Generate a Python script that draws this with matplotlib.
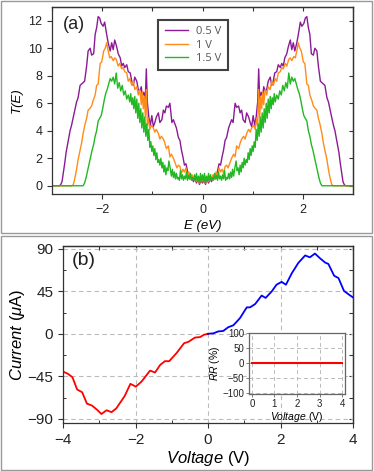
import numpy as np
import matplotlib.pyplot as plt
from matplotlib.patches import Rectangle
from matplotlib.ticker import MultipleLocator

# ---- panel (a): T(E), read for E >= 0 (curves are symmetric in E) ----
e_05 = [0.00, 0.03, 0.06, 0.09, 0.12, 0.15, 0.18, 0.21, 0.25, 0.29, 0.33, 0.36, 0.39, 0.42,
        0.45, 0.48, 0.52, 0.55, 0.58, 0.61, 0.65, 0.68, 0.72, 0.75, 0.78, 0.81, 0.85, 0.88,
        0.92, 0.95, 0.98, 1.01, 1.04, 1.07, 1.10, 1.12, 1.14, 1.17, 1.20, 1.22, 1.25, 1.28,
        1.31, 1.35, 1.38, 1.41, 1.44, 1.48, 1.51, 1.55, 1.58, 1.61, 1.64, 1.68, 1.71, 1.75,
        1.78, 1.81, 1.84, 1.88, 1.91, 1.95, 1.98, 2.02, 2.05, 2.08, 2.11, 2.14, 2.17, 2.21,
        2.24, 2.28, 2.31, 2.35, 2.38, 2.41, 2.44, 2.48, 2.51, 2.55, 2.58, 2.61, 2.64, 2.67,
        2.69, 2.72, 2.74, 2.76, 2.78, 2.80, 2.83, 2.86, 3.00]
t_05 = [0.2, 0.4, 0.1, 0.5, 0.2, 0.6, 0.3, 0.6, 0.5, 0.9, 1.6, 1.5, 2.1, 2.6,
        3.3, 3.5, 4.2, 4.5, 4.8, 4.6, 6.0, 5.7, 5.8, 5.3, 5.5, 4.8, 4.6, 5.3,
        5.0, 4.6, 4.3, 5.1, 4.4, 5.0, 6.1, 8.5, 6.3, 6.8, 6.5, 7.2, 6.9, 7.0,
        7.6, 7.9, 7.3, 7.6, 8.2, 8.3, 8.8, 8.6, 8.9, 8.7, 9.3, 9.6, 10.1, 10.6,
        9.9, 10.4, 9.8, 10.4, 11.0, 11.9, 11.6, 11.8, 12.2, 12.3, 11.5, 11.0, 9.6, 9.5,
        10.0, 9.8, 8.7, 7.6, 7.5, 7.4, 7.3, 6.4, 6.1, 5.4, 4.9, 4.4, 4.0, 3.4,
        3.0, 2.4, 1.8, 1.3, 0.8, 0.3, 0.05, 0.0, 0.0]

e_10 = [0.00, 0.03, 0.06, 0.09, 0.12, 0.15, 0.18, 0.21, 0.24, 0.27, 0.30, 0.33, 0.36, 0.39,
        0.42, 0.45, 0.48, 0.51, 0.55, 0.58, 0.62, 0.65, 0.68, 0.72, 0.75, 0.78, 0.82, 0.85,
        0.88, 0.92, 0.95, 0.98, 1.02, 1.05, 1.08, 1.10, 1.12, 1.14, 1.16, 1.18, 1.20, 1.22,
        1.25, 1.28, 1.31, 1.35, 1.38, 1.41, 1.45, 1.48, 1.51, 1.55, 1.58, 1.61, 1.65, 1.68,
        1.72, 1.75, 1.78, 1.82, 1.85, 1.88, 1.91, 1.94, 1.97, 2.01, 2.04, 2.08, 2.11, 2.14,
        2.18, 2.21, 2.25, 2.28, 2.31, 2.34, 2.38, 2.41, 2.44, 2.48, 2.51, 2.53, 2.56, 2.58,
        2.61, 3.00]
t_10 = [0.3, 0.6, 0.2, 0.5, 0.3, 0.7, 0.5, 0.8, 0.5, 1.0, 0.7, 1.3, 1.0, 1.2,
        0.9, 1.4, 1.5, 1.3, 1.7, 2.0, 2.3, 2.1, 2.9, 2.7, 3.1, 3.4, 3.6, 3.4,
        3.8, 4.1, 3.9, 4.2, 4.4, 4.1, 4.9, 4.4, 7.0, 5.0, 6.5, 5.6, 6.8, 5.9,
        7.0, 6.6, 7.2, 7.0, 7.6, 7.3, 7.8, 7.6, 8.2, 8.3, 8.6, 8.5, 8.9, 8.7,
        9.2, 9.3, 9.1, 9.4, 9.3, 9.8, 10.4, 10.0, 9.8, 9.0, 8.9, 7.4, 7.3, 6.6,
        6.2, 5.8, 5.6, 5.5, 4.9, 4.5, 3.8, 3.1, 2.6, 1.9, 1.2, 0.8, 0.3, 0.05,
        0.0, 0.0]

e_15 = [0.00, 0.02, 0.04, 0.06, 0.08, 0.10, 0.12, 0.14, 0.16, 0.18, 0.20, 0.22, 0.24, 0.26,
        0.28, 0.30, 0.32, 0.34, 0.36, 0.38, 0.40, 0.42, 0.44, 0.46, 0.48, 0.50, 0.52, 0.54,
        0.56, 0.58, 0.60, 0.62, 0.65, 0.67, 0.69, 0.71, 0.73, 0.75, 0.77, 0.79, 0.81, 0.83,
        0.85, 0.87, 0.89, 0.91, 0.93, 0.95, 0.97, 0.99, 1.01, 1.03, 1.05, 1.07, 1.09, 1.11,
        1.13, 1.15, 1.17, 1.19, 1.21, 1.23, 1.25, 1.27, 1.29, 1.31, 1.33, 1.35, 1.37, 1.39,
        1.41, 1.43, 1.45, 1.48, 1.51, 1.54, 1.57, 1.60, 1.63, 1.66, 1.69, 1.72, 1.75, 1.78,
        1.81, 1.84, 1.87, 1.90, 1.93, 1.96, 1.99, 2.02, 2.05, 2.08, 2.11, 2.14, 2.17, 2.20,
        2.23, 2.26, 2.29, 2.32, 2.35, 2.38, 3.00]
t_15 = [0.8, 0.3, 0.9, 0.2, 0.7, 0.3, 0.9, 0.3, 0.8, 0.4, 0.6, 0.4, 0.9, 0.5,
        0.7, 0.4, 1.0, 0.5, 0.7, 0.4, 0.8, 0.5, 1.1, 0.4, 0.6, 0.5, 0.9, 0.5,
        1.0, 0.6, 1.2, 0.7, 1.4, 1.8, 1.1, 1.3, 0.8, 1.5, 1.0, 1.7, 1.3, 2.0,
        1.5, 1.9, 1.7, 2.4, 1.9, 2.7, 2.2, 2.9, 2.5, 3.2, 2.8, 4.1, 3.3, 4.5,
        3.6, 5.0, 3.9, 5.3, 4.2, 5.6, 4.6, 6.0, 4.9, 6.3, 5.3, 6.5, 5.6, 6.4,
        5.9, 6.7, 6.1, 6.6, 6.3, 6.9, 6.6, 7.3, 6.9, 7.5, 7.1, 8.2, 7.4, 7.9,
        7.6, 7.8, 7.4, 7.0, 6.7, 6.2, 5.6, 5.1, 4.9, 4.7, 4.0, 3.6, 3.0, 2.6,
        2.1, 1.6, 1.1, 0.6, 0.2, 0.0, 0.0]

bias_labels = ['0.5 V', '1 V', '1.5 V']
bias_colors = ['#8b1a96', '#ff8c1a', '#22b822']

# ---- panel (b): I-V ----
v_neg = [-4.00, -3.86, -3.74, -3.61, -3.47, -3.34, -3.20, -3.06, -2.94, -2.80, -2.66, -2.53,
         -2.30, -2.14, -1.99, -1.83, -1.60, -1.46, -1.32, -1.19, -1.07, -0.87, -0.66, -0.54,
         -0.36, -0.22, -0.11, 0.00]
i_neg = [-40, -42.5, -46, -59, -62, -74, -76, -80.5, -85, -81, -83, -79,
         -66, -53, -56, -50.5, -39, -41, -33, -29, -29, -20.5, -10, -8.5,
         -4, -3.5, -1, 0]
v_pos = [0.00, 0.15, 0.28, 0.42, 0.56, 0.70, 0.88, 1.07, 1.16, 1.30, 1.48, 1.59, 1.76,
         1.89, 2.03, 2.15, 2.31, 2.49, 2.68, 2.81, 2.95, 3.09, 3.23, 3.32, 3.48, 3.60,
         3.75, 3.87, 4.00]
i_pos = [0, 0.5, 2.5, 3, 7, 9, 16.5, 28, 28, 31.5, 40.5, 38, 45,
         52, 55, 52, 64, 75, 83, 81, 85, 80, 75.5, 74, 61.5, 59,
         45.5, 42, 38.5]

# inset: rectification ratio
v_rr = [0, 1, 2, 3, 4]
rr = [0, 0, 0, 0, 0]

plt.rcParams['font.family'] = ['Liberation Sans', 'DejaVu Sans']
plt.rcParams['mathtext.fontset'] = 'custom'
plt.rcParams['mathtext.rm'] = 'Liberation Sans'
plt.rcParams['mathtext.it'] = 'Liberation Sans:italic'
plt.rcParams['axes.linewidth'] = 0.9

spine_c = '#333333'
grid_c = '#bbbbbb'

fig = plt.figure(figsize=(3.74, 4.71), dpi=100)
W, H = 374.0, 471.0


def px_axes(l, t, r, b):
    return fig.add_axes([l / W, 1 - b / H, (r - l) / W, (b - t) / H])


def style_ticks(ax, size, xmin=None, ymin=None):
    for s in ax.spines.values():
        s.set_color(spine_c)
    ax.tick_params(which='major', direction='out', length=3.5, width=0.8,
                   labelsize=size, colors=spine_c, labelcolor='#222222')
    ax.tick_params(which='minor', direction='in', length=2.5, width=0.7, colors=spine_c)
    if xmin:
        ax.xaxis.set_minor_locator(MultipleLocator(xmin))
    if ymin:
        ax.yaxis.set_minor_locator(MultipleLocator(ymin))
    top = ax.secondary_xaxis('top')
    right = ax.secondary_yaxis('right')
    top.set_xticks(ax.get_xticks())
    right.set_yticks(ax.get_yticks())
    for sec, axis in ((top, top.xaxis), (right, right.yaxis)):
        sec.tick_params(which='both', direction='in', length=3, width=0.8, colors=spine_c,
                        labeltop=False, labelright=False)
        if axis is top.xaxis and xmin:
            axis.set_minor_locator(MultipleLocator(xmin))
        if axis is right.yaxis and ymin:
            axis.set_minor_locator(MultipleLocator(ymin))
        for s in sec.spines.values():
            s.set_color(spine_c)


# ---------------- panel (a) ----------------
ax1 = px_axes(52, 7, 353, 194)
for e, t, lab, c in zip([e_05, e_10, e_15], [t_05, t_10, t_15], bias_labels, bias_colors):
    e = np.array(e)
    t = np.array(t)
    ee = np.concatenate([-e[::-1], e[1:]])
    tt = np.concatenate([t[::-1], t[1:]])
    ax1.plot(ee, tt, color=c, lw=1.0, label=lab)
ax1.set_xlim(-3, 3)
ax1.set_ylim(-0.6, 13)
ax1.set_xticks([-2, 0, 2])
ax1.set_yticks([0, 2, 4, 6, 8, 10, 12])
style_ticks(ax1, 9, xmin=1)
ax1.set_xlabel('E (eV)', fontsize=9.5, style='italic', labelpad=3)
ax1.set_ylabel('T(E)', fontsize=9.5, style='italic', labelpad=4)
ax1.text(0.035, 0.95, '(a)', transform=ax1.transAxes, fontsize=13, va='top', ha='left',
         color='#222222')
leg = ax1.legend(loc='upper left', bbox_to_anchor=(0.352, 0.932),
                 frameon=True, fancybox=False, handlelength=2.1, handletextpad=0.75,
                 borderpad=0.6, labelspacing=0.2, borderaxespad=0,
                 prop={'family': 'Open Sans', 'size': 8})
leg.get_frame().set_edgecolor('#111111')
leg.get_frame().set_linewidth(1.5)
for txt in leg.get_texts():
    txt.set_color('#555555')

# ---------------- panel (b) ----------------
ax2 = px_axes(63, 246, 353, 423)
ax2.plot(v_neg, i_neg, color='red', lw=1.3)
ax2.plot(v_pos, i_pos, color='blue', lw=1.3)
ax2.set_xlim(-4, 4)
ax2.set_ylim(-94.5, 93)
ax2.set_xticks([-4, -2, 0, 2, 4])
ax2.set_yticks([-90, -45, 0, 45, 90])
ax2.grid(True, which='major', ls=(0, (4, 3)), color=grid_c, lw=0.8)
style_ticks(ax2, 11, xmin=1, ymin=22.5)
ax2.set_xlabel(r'$\it{Voltage}$ (V)', fontsize=12, labelpad=2)
ax2.set_ylabel(r'$\it{Current}$ ($\mu$A)', fontsize=12, labelpad=0)
ax2.text(0.03, 0.965, '(b)', transform=ax2.transAxes, fontsize=14, va='top', ha='left',
         color='#222222')

# inset
ax3 = px_axes(249, 333, 345, 394)
ax3.plot(v_rr, rr, color='red', lw=1.5)
ax3.set_xlim(-0.13, 4.13)
ax3.set_ylim(-103, 100)
ax3.set_xticks([0, 1, 2, 3, 4])
ax3.set_yticks([-100, -50, 0, 50, 100])
ax3.grid(True, ls=(0, (4, 3)), color=grid_c, lw=0.7)
for s in ax3.spines.values():
    s.set_color('#666666')
ax3.tick_params(direction='out', length=2, width=0.6, labelsize=7, pad=1.5,
                colors='#666666', labelcolor='#222222')
ax3.set_xlabel(r'$\it{Voltage}$ (V)', fontsize=7.5, labelpad=0.5)
ax3.set_ylabel(r'$\it{RR}$ (%)', fontsize=7.5, labelpad=0)

# panel frames
fig.add_artist(Rectangle((0.8 / W, 1 - 233 / H), 371.5 / W, 232.5 / H, transform=fig.transFigure,
                         fill=False, edgecolor='#999999', lw=1.0))
fig.add_artist(Rectangle((0.8 / W, 1 - 470.3 / H), 371.5 / W, 234.5 / H, transform=fig.transFigure,
                         fill=False, edgecolor='#999999', lw=1.0))

fig.savefig('out.png', dpi=100)
